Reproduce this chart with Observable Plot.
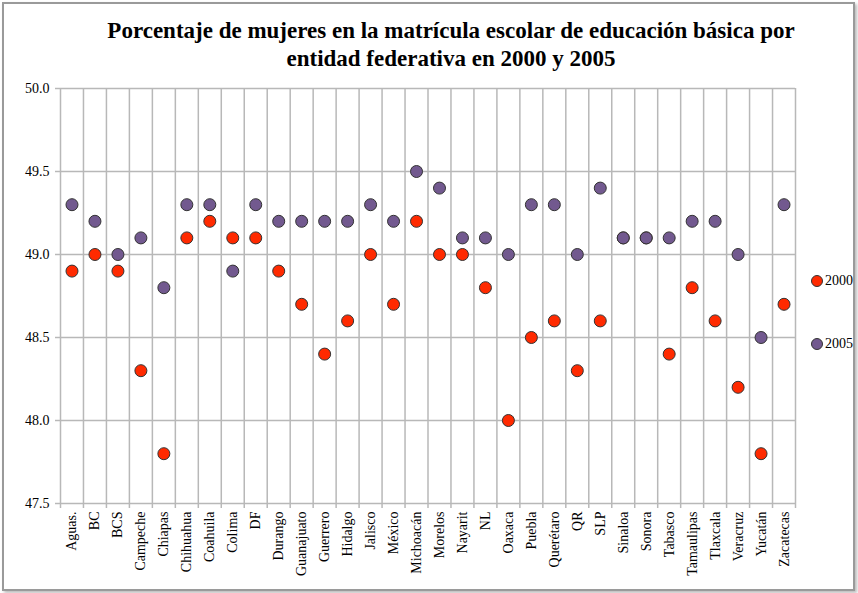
<!DOCTYPE html>
<html>
<head>
<meta charset="utf-8">
<script src="https://cdn.jsdelivr.net/npm/d3@7"></script>
<script src="https://cdn.jsdelivr.net/npm/@observablehq/plot@0.6"></script>
<style>
  html, body { margin: 0; padding: 0; background: #fff; }
  #wrap { position: relative; width: 858px; height: 593px; font-family: "Liberation Serif", serif; }
  #frame { position: absolute; left: 2px; top: 2px; width: 849px; height: 585px; border: 2px solid #9a9a9a; box-shadow: 2px 2px 3px #bbb; pointer-events: none; }
  #title { position: absolute; left: 40px; width: 822px; top: 17px; text-align: center; font-weight: bold; font-size: 23px; line-height: 28px; color: #000; }
  .leg { position: absolute; left: 810px; font-size: 14px; color: #000; display: flex; align-items: center; }
  .leg svg { margin-right: 1px; }
  #chart { position: absolute; left: 0; top: 0; }
  #chart svg, #chart svg text { font-family: "Liberation Serif", serif !important; }
</style>
</head>
<body>
<div id="wrap">
  <div id="chart"></div>
  <div id="frame"></div>
  <div id="title">Porcentaje de mujeres en la matrícula escolar de educación básica por<br>entidad federativa en 2000 y 2005</div>
  <div class="leg" style="top:273px"><svg width="14" height="14"><circle cx="7" cy="7" r="5.5" fill="#ff2a00" stroke="#333" stroke-width="1"/></svg>2000</div>
  <div class="leg" style="top:336px"><svg width="14" height="14"><circle cx="7" cy="7" r="5.5" fill="#72598f" stroke="#333" stroke-width="1"/></svg>2005</div>
</div>
<script>
const states = ["Aguas.", "BC", "BCS", "Campeche", "Chiapas", "Chihuahua", "Coahuila", "Colima", "DF", "Durango", "Guanajuato", "Guerrero", "Hidalgo", "Jalisco", "México", "Michoacán", "Morelos", "Nayarit", "NL", "Oaxaca", "Puebla", "Querétaro", "QR", "SLP", "Sinaloa", "Sonora", "Tabasco", "Tamaulipas", "Tlaxcala", "Veracruz", "Yucatán", "Zacatecas"];
const values2000 = [48.9, 49.0, 48.9, 48.3, 47.8, 49.1, 49.2, 49.1, 49.1, 48.9, 48.7, 48.4, 48.6, 49.0, 48.7, 49.2, 49.0, 49.0, 48.8, 48.0, 48.5, 48.6, 48.3, 48.6, 49.1, 49.1, 48.4, 48.8, 48.6, 48.2, 47.8, 48.7];
const values2005 = [49.3, 49.2, 49.0, 49.1, 48.8, 49.3, 49.3, 48.9, 49.3, 49.2, 49.2, 49.2, 49.2, 49.3, 49.2, 49.5, 49.4, 49.1, 49.1, 49.0, 49.3, 49.3, 49.0, 49.4, 49.1, 49.1, 49.1, 49.2, 49.2, 49.0, 48.5, 49.3];
const yTicks = [47.5, 48.0, 48.5, 49.0, 49.5, 50.0];

const rows2000 = states.map((s, i) => ({state: s, idx: i + 0.5, value: values2000[i]}));
const rows2005 = states.map((s, i) => ({state: s, idx: i + 0.5, value: values2005[i]}));
const boundaries = d3.range(states.length + 1);
const centers = states.map((s, i) => i + 0.5);

const grid = "#b8b8b8";
const chart = Plot.plot({
  width: 858,
  height: 593,
  marginLeft: 60,
  marginRight: 63,
  marginTop: 88,
  marginBottom: 90,
  style: {fontFamily: "Liberation Serif", fontSize: "14px", color: "#000", background: "transparent"},
  x: {domain: [0, states.length], axis: null, label: null},
  y: {domain: [47.5, 50], axis: null, label: null},
  marks: [
    Plot.ruleY(yTicks, {y: d => d, stroke: grid, strokeWidth: 1.5}),
    Plot.ruleX(boundaries, {x: d => d, stroke: grid, strokeWidth: 1.5}),
    Plot.axisY(yTicks, {label: null, tickSize: 5, tickFormat: d3.format(".1f"), stroke: grid, strokeWidth: 1.5, tickPadding: 6, fontSize: 14}),
    Plot.axisX(boundaries, {label: null, tickSize: 5, tickFormat: () => "", stroke: grid, strokeWidth: 1.5}),
    Plot.axisX(centers, {label: null, tickSize: 0, tickPadding: 8, tickRotate: -90, tickFormat: d => states[Math.floor(d)], fontSize: 14}),
    Plot.dot(rows2000, {x: "idx", y: "value", r: 6, fill: "#ff2a00", stroke: "#333", strokeWidth: 1}),
    Plot.dot(rows2005, {x: "idx", y: "value", r: 6, fill: "#72598f", stroke: "#333", strokeWidth: 1})
  ]
});
document.getElementById("chart").appendChild(chart);
</script>
</body>
</html>
